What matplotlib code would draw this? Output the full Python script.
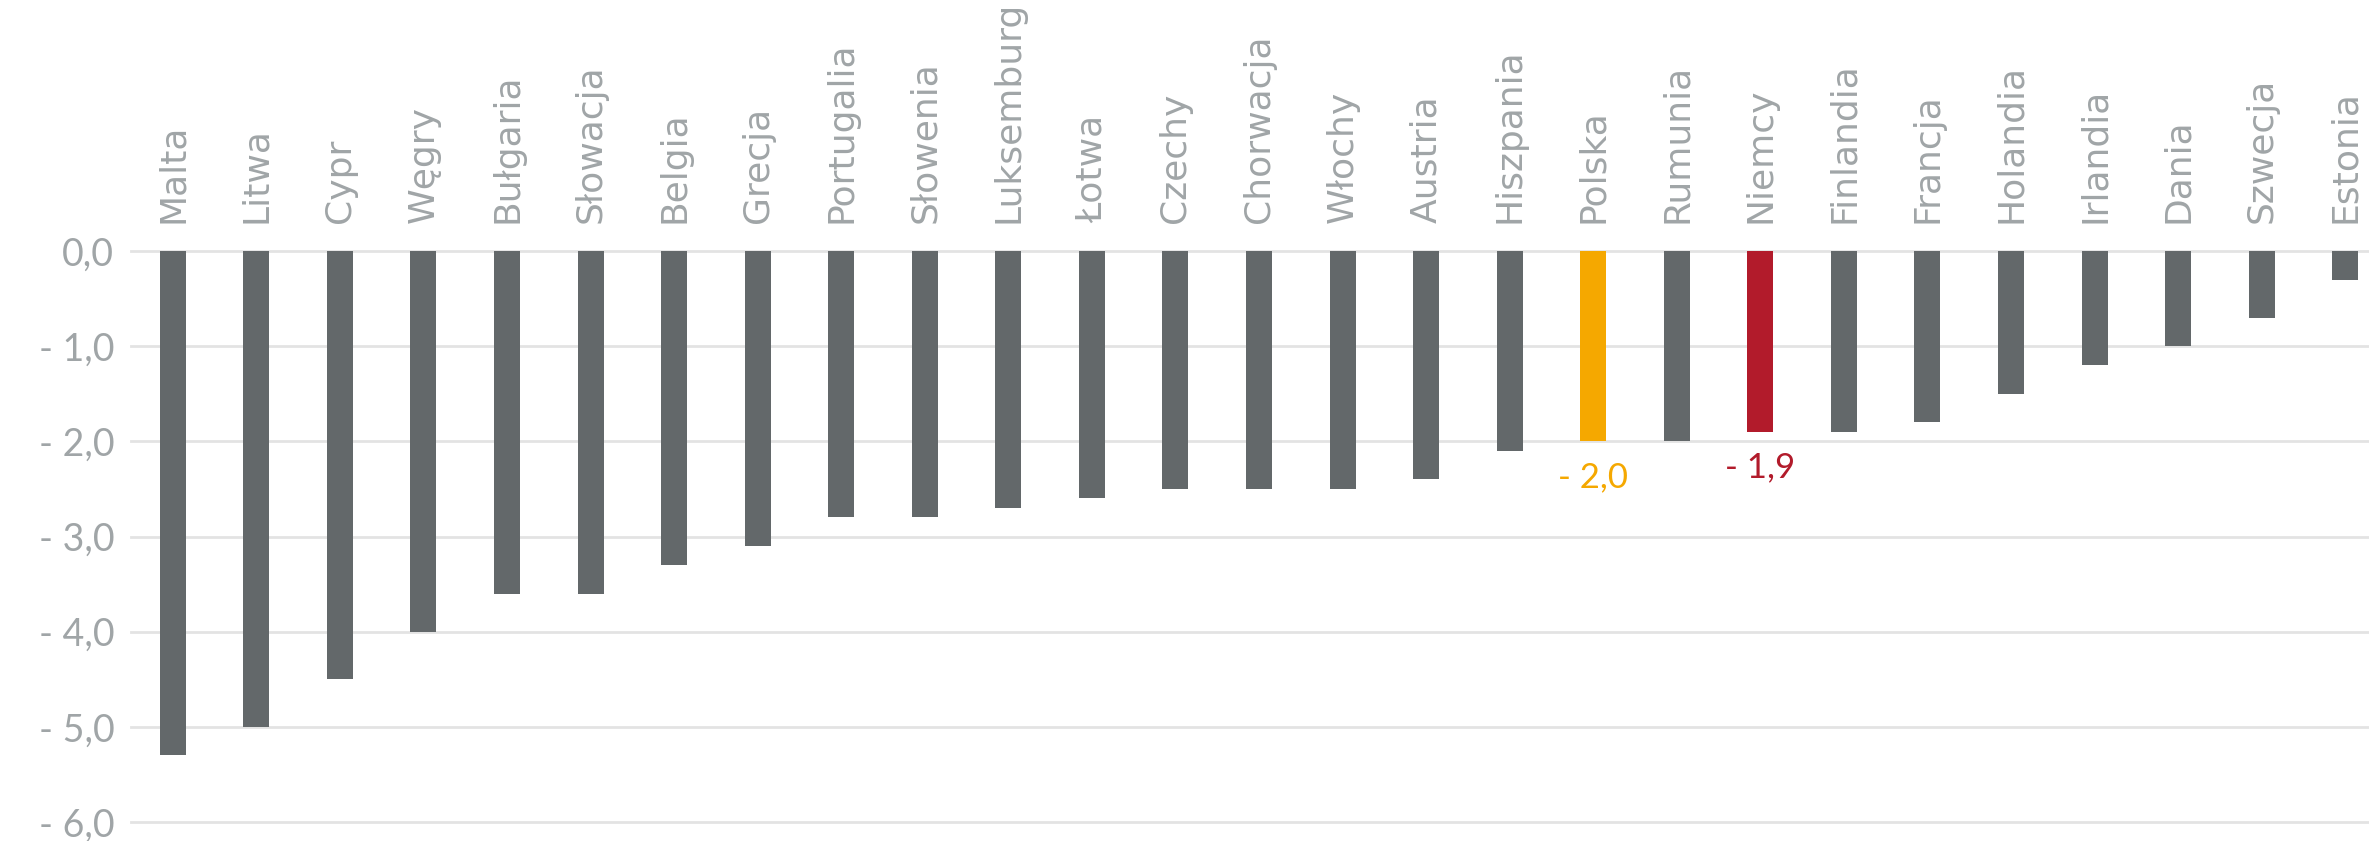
import matplotlib
matplotlib.use("Agg")
import matplotlib.pyplot as plt

countries = ["Malta", "Litwa", "Cypr", "Węgry", "Bułgaria", "Słowacja", "Belgia",
             "Grecja", "Portugalia", "Słowenia", "Luksemburg", "Łotwa", "Czechy",
             "Chorwacja", "Włochy", "Austria", "Hiszpania", "Polska", "Rumunia",
             "Niemcy", "Finlandia", "Francja", "Holandia", "Irlandia", "Dania",
             "Szwecja", "Estonia"]
values = [-5.3, -5.0, -4.5, -4.0, -3.6, -3.6, -3.3, -3.1, -2.8, -2.8, -2.7, -2.6,
          -2.5, -2.5, -2.5, -2.4, -2.1, -2.0, -2.0, -1.9, -1.9, -1.8, -1.5, -1.2,
          -1.0, -0.7, -0.3]
highlight = {"Polska": "#F5A800", "Niemcy": "#B21B2B"}
y_ticks = [0, -1, -2, -3, -4, -5, -6]
y_tick_labels = ["0,0", "- 1,0", "- 2,0", "- 3,0", "- 4,0", "- 5,0", "- 6,0"]

BAR = "#63686A"
TXT = "#A0A5A7"
GRID = "#E3E3E3"

fig = plt.figure(figsize=(23.69, 8.41), dpi=100)
ax = fig.add_axes([0.0553, 0.0226, 0.9523, 0.6789])

x = list(range(len(countries)))
colors = [highlight.get(c, BAR) for c in countries]
ax.bar(x, values, width=0.31, color=colors, zorder=3)

ax.set_xlim(-0.5, len(countries) - 0.5)
ax.set_ylim(-6, 0)
ax.set_yticks(y_ticks)
ax.set_yticklabels(y_tick_labels, family="Lato", fontsize=27, color=TXT)
ax.tick_params(axis="y", length=0, pad=12)

ax.xaxis.tick_top()
ax.set_xticks(x)
ax.set_xticklabels(countries, rotation=90, family="DejaVu Sans", fontsize=26,
                   color=TXT, ha="center", va="bottom")
ax.tick_params(axis="x", length=0, pad=20)

for yv in y_ticks:
    ax.axhline(yv, color=GRID, lw=2, zorder=1, clip_on=False)

for s in ax.spines.values():
    s.set_visible(False)

for i, (c, v) in enumerate(zip(countries, values)):
    if c in highlight:
        lbl = "- " + f"{abs(v):.1f}".replace(".", ",")
        ax.annotate(lbl, (i, v), xytext=(0, -14), textcoords="offset points",
                    ha="center", va="top", family="Lato", fontsize=25,
                    color=highlight[c])

fig.savefig("out.png", dpi=100)
